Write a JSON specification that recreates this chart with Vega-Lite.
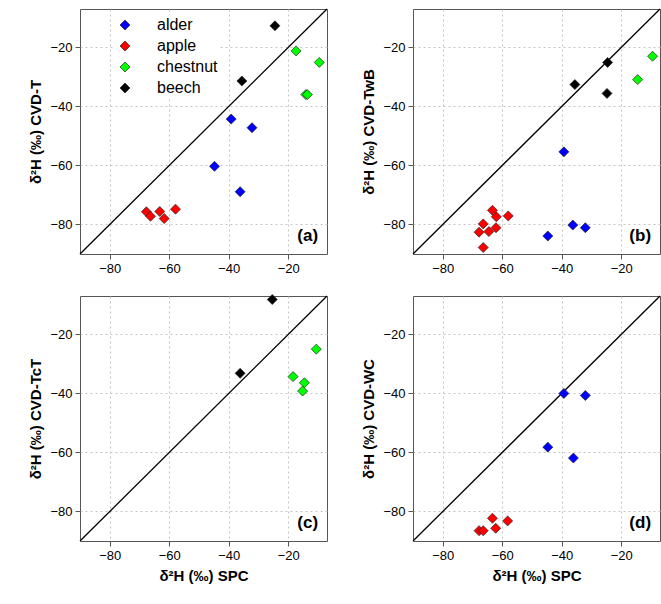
{
  "$schema": "https://vega.github.io/schema/vega-lite/v6.json",
  "background": "white",
  "padding": {"left": 28, "top": 5, "right": 2, "bottom": 5},
  "autosize": "pad",
  "datasets": {
    "pts": [
      {"panel": "a", "species": "alder", "spc": -39.2, "cvd": -44.3},
      {"panel": "a", "species": "alder", "spc": -32.2, "cvd": -47.2},
      {"panel": "a", "species": "alder", "spc": -44.8, "cvd": -60.3},
      {"panel": "a", "species": "alder", "spc": -36.2, "cvd": -68.9},
      {"panel": "a", "species": "apple", "spc": -67.7, "cvd": -75.7},
      {"panel": "a", "species": "apple", "spc": -66.3, "cvd": -77.2},
      {"panel": "a", "species": "apple", "spc": -63.2, "cvd": -75.6},
      {"panel": "a", "species": "apple", "spc": -61.7, "cvd": -78.0},
      {"panel": "a", "species": "apple", "spc": -57.9, "cvd": -74.8},
      {"panel": "a", "species": "chestnut", "spc": -17.4, "cvd": -21.2},
      {"panel": "a", "species": "chestnut", "spc": -9.6, "cvd": -25.1},
      {"panel": "a", "species": "chestnut", "spc": -14.1, "cvd": -36.0},
      {"panel": "a", "species": "chestnut", "spc": -13.6, "cvd": -36.0},
      {"panel": "a", "species": "beech", "spc": -24.5, "cvd": -12.7},
      {"panel": "a", "species": "beech", "spc": -35.6, "cvd": -31.4},
      {"panel": "b", "species": "beech", "spc": -24.6, "cvd": -25.1},
      {"panel": "b", "species": "beech", "spc": -35.6, "cvd": -32.6},
      {"panel": "b", "species": "beech", "spc": -24.8, "cvd": -35.6},
      {"panel": "b", "species": "chestnut", "spc": -9.5, "cvd": -23.0},
      {"panel": "b", "species": "chestnut", "spc": -14.5, "cvd": -30.9},
      {"panel": "b", "species": "alder", "spc": -39.3, "cvd": -55.4},
      {"panel": "b", "species": "alder", "spc": -36.3, "cvd": -80.2},
      {"panel": "b", "species": "alder", "spc": -32.1, "cvd": -81.1},
      {"panel": "b", "species": "alder", "spc": -44.7, "cvd": -83.9},
      {"panel": "b", "species": "apple", "spc": -63.3, "cvd": -75.2},
      {"panel": "b", "species": "apple", "spc": -62.0, "cvd": -77.4},
      {"panel": "b", "species": "apple", "spc": -58.0, "cvd": -77.1},
      {"panel": "b", "species": "apple", "spc": -66.4, "cvd": -79.8},
      {"panel": "b", "species": "apple", "spc": -67.8, "cvd": -82.6},
      {"panel": "b", "species": "apple", "spc": -64.5, "cvd": -82.4},
      {"panel": "b", "species": "apple", "spc": -62.1, "cvd": -81.1},
      {"panel": "b", "species": "apple", "spc": -66.4, "cvd": -87.8},
      {"panel": "c", "species": "beech", "spc": -25.4, "cvd": -8.2},
      {"panel": "c", "species": "beech", "spc": -36.2, "cvd": -33.2},
      {"panel": "c", "species": "chestnut", "spc": -10.6, "cvd": -25.0},
      {"panel": "c", "species": "chestnut", "spc": -18.4, "cvd": -34.3},
      {"panel": "c", "species": "chestnut", "spc": -14.6, "cvd": -36.4},
      {"panel": "c", "species": "chestnut", "spc": -15.2, "cvd": -39.2},
      {"panel": "d", "species": "alder", "spc": -39.3, "cvd": -40.0},
      {"panel": "d", "species": "alder", "spc": -32.1, "cvd": -40.7},
      {"panel": "d", "species": "alder", "spc": -44.7, "cvd": -58.2},
      {"panel": "d", "species": "alder", "spc": -36.1, "cvd": -61.9},
      {"panel": "d", "species": "apple", "spc": -63.3, "cvd": -82.3},
      {"panel": "d", "species": "apple", "spc": -58.2, "cvd": -83.2},
      {"panel": "d", "species": "apple", "spc": -62.2, "cvd": -85.7},
      {"panel": "d", "species": "apple", "spc": -67.8, "cvd": -86.5},
      {"panel": "d", "species": "apple", "spc": -66.4, "cvd": -86.5}
    ],
    "diag": [{"spc": -90, "cvd": -90}, {"spc": -7, "cvd": -7}]
  },
  "columns": 2,
  "spacing": {"column": 30, "row": 16},
  "concat": [
    {
      "width": 247, "height": 245,
      "encoding": {
        "x": {"field": "spc", "type": "quantitative", "scale": {"domain": [-90, -7], "nice": false}, "axis": {"values": [-80, -60, -40, -20]}, "title": null},
        "y": {"field": "cvd", "type": "quantitative", "scale": {"domain": [-90, -7], "nice": false}, "axis": {"values": [-80, -60, -40, -20]}, "title": "δ²H (‰) CVD-T"}
      },
      "layer": [
        {"data": {"name": "diag"}, "mark": {"type": "line", "color": "black", "strokeWidth": 1.3}},
        {"data": {"name": "pts"}, "transform": [{"filter": "datum.panel == 'a'"}],
         "mark": {"type": "point", "shape": "diamond", "filled": true, "size": 100, "stroke": "#222", "strokeWidth": 0.7, "opacity": 1},
         "encoding": {"color": {"field": "species", "type": "nominal", "scale": {"domain": ["alder", "apple", "chestnut", "beech"]}}}},
        {"data": {"values": [{"spc": -10, "cvd": -84, "t": "(a)"}]},
         "mark": {"type": "text", "align": "right", "baseline": "middle", "fontSize": 17, "fontWeight": "bold"},
         "encoding": {"text": {"field": "t"}}}
      ]
    },
    {
      "width": 247, "height": 245,
      "encoding": {
        "x": {"field": "spc", "type": "quantitative", "scale": {"domain": [-90, -7], "nice": false}, "axis": {"values": [-80, -60, -40, -20]}, "title": null},
        "y": {"field": "cvd", "type": "quantitative", "scale": {"domain": [-90, -7], "nice": false}, "axis": {"values": [-80, -60, -40, -20]}, "title": "δ²H (‰) CVD-TwB"}
      },
      "layer": [
        {"data": {"name": "diag"}, "mark": {"type": "line", "color": "black", "strokeWidth": 1.3}},
        {"data": {"name": "pts"}, "transform": [{"filter": "datum.panel == 'b'"}],
         "mark": {"type": "point", "shape": "diamond", "filled": true, "size": 100, "stroke": "#222", "strokeWidth": 0.7, "opacity": 1},
         "encoding": {"color": {"field": "species", "type": "nominal", "scale": {"domain": ["alder", "apple", "chestnut", "beech"]}}}},
        {"data": {"values": [{"spc": -10, "cvd": -84, "t": "(b)"}]},
         "mark": {"type": "text", "align": "right", "baseline": "middle", "fontSize": 17, "fontWeight": "bold"},
         "encoding": {"text": {"field": "t"}}}
      ]
    },
    {
      "width": 247, "height": 245,
      "encoding": {
        "x": {"field": "spc", "type": "quantitative", "scale": {"domain": [-90, -7], "nice": false}, "axis": {"values": [-80, -60, -40, -20]}, "title": "δ²H (‰) SPC"},
        "y": {"field": "cvd", "type": "quantitative", "scale": {"domain": [-90, -7], "nice": false}, "axis": {"values": [-80, -60, -40, -20]}, "title": "δ²H (‰) CVD-TcT"}
      },
      "layer": [
        {"data": {"name": "diag"}, "mark": {"type": "line", "color": "black", "strokeWidth": 1.3}},
        {"data": {"name": "pts"}, "transform": [{"filter": "datum.panel == 'c'"}],
         "mark": {"type": "point", "shape": "diamond", "filled": true, "size": 100, "stroke": "#222", "strokeWidth": 0.7, "opacity": 1},
         "encoding": {"color": {"field": "species", "type": "nominal", "scale": {"domain": ["alder", "apple", "chestnut", "beech"]}}}},
        {"data": {"values": [{"spc": -10, "cvd": -84, "t": "(c)"}]},
         "mark": {"type": "text", "align": "right", "baseline": "middle", "fontSize": 17, "fontWeight": "bold"},
         "encoding": {"text": {"field": "t"}}}
      ]
    },
    {
      "width": 247, "height": 245,
      "encoding": {
        "x": {"field": "spc", "type": "quantitative", "scale": {"domain": [-90, -7], "nice": false}, "axis": {"values": [-80, -60, -40, -20]}, "title": "δ²H (‰) SPC"},
        "y": {"field": "cvd", "type": "quantitative", "scale": {"domain": [-90, -7], "nice": false}, "axis": {"values": [-80, -60, -40, -20]}, "title": "δ²H (‰) CVD-WC"}
      },
      "layer": [
        {"data": {"name": "diag"}, "mark": {"type": "line", "color": "black", "strokeWidth": 1.3}},
        {"data": {"name": "pts"}, "transform": [{"filter": "datum.panel == 'd'"}],
         "mark": {"type": "point", "shape": "diamond", "filled": true, "size": 100, "stroke": "#222", "strokeWidth": 0.7, "opacity": 1},
         "encoding": {"color": {"field": "species", "type": "nominal", "scale": {"domain": ["alder", "apple", "chestnut", "beech"]}}}},
        {"data": {"values": [{"spc": -10, "cvd": -84, "t": "(d)"}]},
         "mark": {"type": "text", "align": "right", "baseline": "middle", "fontSize": 17, "fontWeight": "bold"},
         "encoding": {"text": {"field": "t"}}}
      ]
    }
  ],
  "resolve": {"scale": {"x": "independent", "y": "independent"}},
  "config": {
    "font": "Liberation Sans",
    "view": {"stroke": "#555", "strokeWidth": 1},
    "axis": {
      "grid": true, "gridColor": "#c4c4c4", "gridDash": [2, 3], "gridWidth": 1,
      "domain": false, "tickColor": "#555", "tickSize": 5,
      "labelFontSize": 13, "labelColor": "black", "labelPadding": 3,
      "titleFontSize": 15, "titleFontWeight": "bold", "titleColor": "black", "titlePadding": 6
    },
    "legend": {
      "orient": "none", "legendX": 35, "legendY": 6,
      "title": null, "symbolType": "diamond", "symbolSize": 100, "symbolStrokeColor": "#222", "symbolStrokeWidth": 0.7,
      "labelFontSize": 16, "labelOffset": 24, "rowPadding": 5, "fillColor": "white", "padding": 2
    },
    "range": {"category": ["#0000ff", "#ff0000", "#00ff00", "#000000"]}
  }
}
